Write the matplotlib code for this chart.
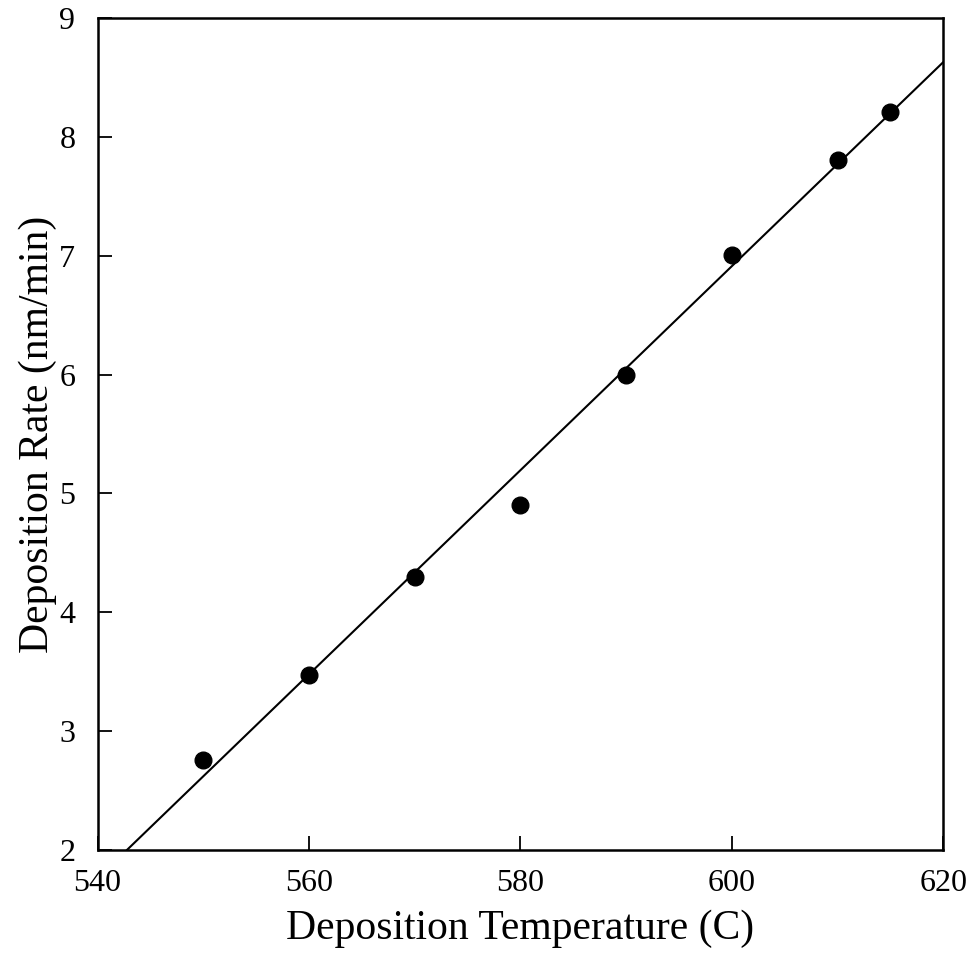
import numpy as np
import matplotlib
matplotlib.use("Agg")
import matplotlib.pyplot as plt

# datos
temperatura = [550, 560, 570, 580, 590, 600, 610, 615]
tasa = [2.76, 3.47, 4.30, 4.90, 6.00, 7.01, 7.81, 8.21]

# recta de ajuste (extremos leidos)
ajuste_x = [542.8, 620.0]
ajuste_y = [2.0, 8.63]

x_ticks = [540, 560, 580, 600, 620]
y_ticks = [2, 3, 4, 5, 6, 7, 8, 9]

plt.rcParams['font.family'] = ['Liberation Serif', 'DejaVu Serif']

fig = plt.figure(figsize=(9.8, 9.57), dpi=100)
ax = fig.add_axes([0.0995, 0.112, 0.863, 0.869])

ax.plot(ajuste_x, ajuste_y, color='black', linewidth=1.5)
ax.plot(temperatura, tasa, 'o', color='black', markersize=12)

ax.set_xlim(540, 620)
ax.set_ylim(2, 9)
ax.set_xticks(x_ticks)
ax.set_yticks(y_ticks)
ax.tick_params(direction='in', length=10, width=1.3, labelsize=23)
ax.tick_params(axis='x', pad=14)
ax.tick_params(axis='y', pad=16)
for s in ax.spines.values():
    s.set_linewidth(1.8)

ax.set_xlabel('Deposition Temperature (C)', fontsize=30, labelpad=8)
ax.set_ylabel('Deposition Rate (nm/min)', fontsize=30, labelpad=2)

fig.savefig('out.png', dpi=100)
